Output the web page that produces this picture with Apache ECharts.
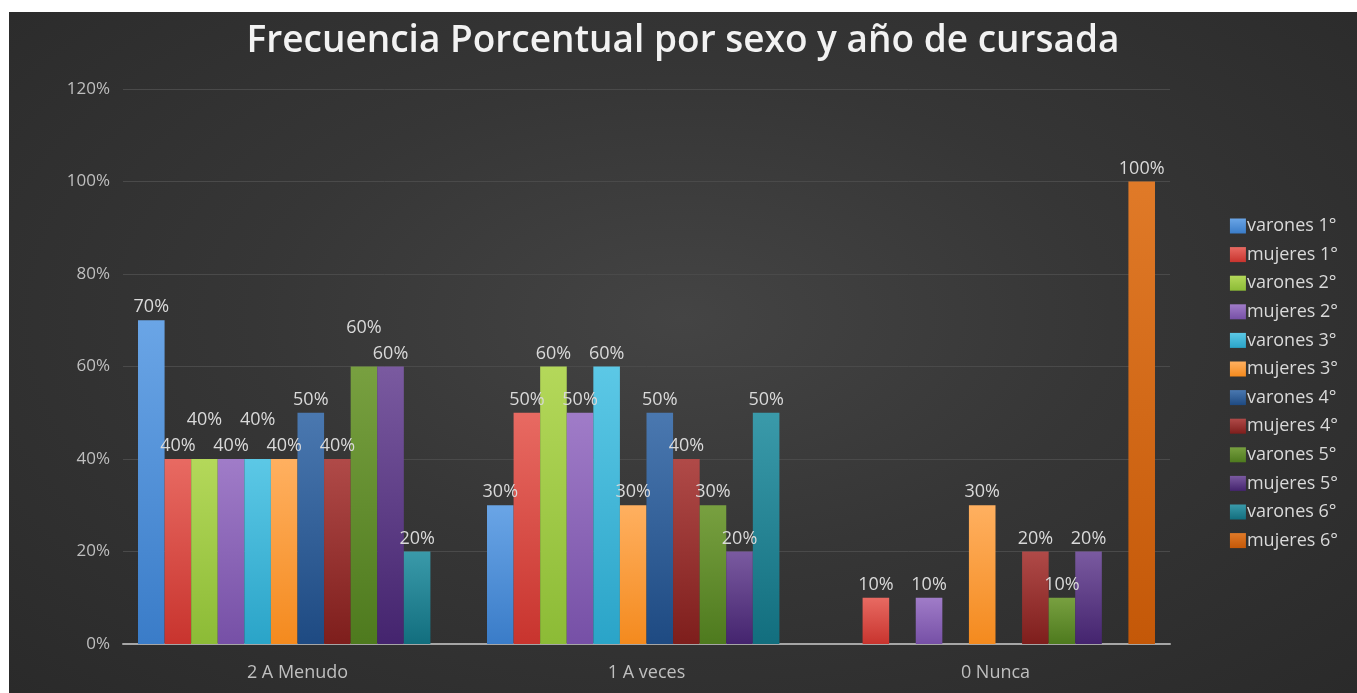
<!DOCTYPE html>
<html>
<head>
<meta charset="utf-8">
<script src="https://cdn.jsdelivr.net/npm/echarts@6/dist/echarts.min.js"></script>
<style>
html, body { margin: 0; padding: 0; background: #fff; }
#chart {
  position: absolute; left: 9px; top: 12px; width: 1348px; height: 681px;
  background: radial-gradient(ellipse at 50% 45%, #444444 0%, #363636 45%, #2a2a2a 100%);
}
</style>
</head>
<body>
<div id="chart"></div>
<script>
// categorías del eje x
var categorias = ['2 A Menudo', '1 A veces', '0 Nunca'];
var series_nombres = ['varones 1°', 'mujeres 1°', 'varones 2°', 'mujeres 2°', 'varones 3°', 'mujeres 3°',
                      'varones 4°', 'mujeres 4°', 'varones 5°', 'mujeres 5°', 'varones 6°', 'mujeres 6°'];
// valores en % por categoría
var varones1 = [70, 30, 0];
var mujeres1 = [40, 50, 10];
var varones2 = [40, 60, 0];
var mujeres2 = [40, 50, 10];
var varones3 = [40, 60, 0];
var mujeres3 = [40, 30, 30];
var varones4 = [50, 50, 0];
var mujeres4 = [40, 40, 20];
var varones5 = [60, 30, 10];
var mujeres5 = [60, 20, 20];
var varones6 = [20, 50, 0];
var mujeres6 = [0, 0, 100];
var ticksY = [0, 20, 40, 60, 80, 100, 120];

var valores = [varones1, mujeres1, varones2, mujeres2, varones3, mujeres3,
               varones4, mujeres4, varones5, mujeres5, varones6, mujeres6];
// colores (arriba, abajo) para el degradado de cada barra
var colores = [
  ['#6aa5e6', '#3a7cc8'], ['#e86a62', '#c8342e'], ['#b4d85a', '#8cbb36'],
  ['#a07cc8', '#7650a6'], ['#5cc8e6', '#2aa4c8'], ['#ffb060', '#f48a1e'],
  ['#4a78b0', '#1e4a82'], ['#b04a48', '#7e1e1c'], ['#78a040', '#4e7a1e'],
  ['#7a5aa0', '#44246e'], ['#3a9aaa', '#126e7e'], ['#e07a28', '#c45808']
];
// etiquetas que Excel subió para que no se pisen: "serie-categoría"
var etiquetasArriba = { '2-0': true, '4-0': true, '8-0': true };

var chart = echarts.init(document.getElementById('chart'));

var series = [];
for (var i = 0; i < valores.length; i++) {
  var datos = [];
  for (var j = 0; j < valores[i].length; j++) {
    var d = { value: valores[i][j] };
    if (etiquetasArriba[i + '-' + j]) d.label = { offset: [0, -26] };
    datos.push(d);
  }
  series.push({
    name: series_nombres[i],
    type: 'bar',
    data: datos,
    barGap: 0,
    barCategoryGap: '8.6%',
    itemStyle: {
      color: new echarts.graphic.LinearGradient(0, 0, 0, 1, [
        { offset: 0, color: colores[i][0] },
        { offset: 1, color: colores[i][1] }
      ])
    },
    label: {
      show: true,
      position: 'top',
      distance: 4,
      color: '#d9d9d9',
      fontSize: 18,
      fontFamily: 'Open Sans',
      formatter: function (p) { return p.value > 0 ? p.value + '%' : ''; }
    }
  });
}

chart.setOption({
  backgroundColor: 'transparent',
  title: {
    text: 'Frecuencia Porcentual por sexo y año de cursada',
    left: 'center',
    top: 6,
    textStyle: { color: '#f2f2f2', fontSize: 37, fontWeight: 600, fontFamily: 'Open Sans' }
  },
  legend: {
    orient: 'vertical',
    right: 14,
    top: 200,
    itemWidth: 16,
    itemHeight: 15,
    itemGap: 10.6,
    icon: 'rect',
    textStyle: { color: '#d9d9d9', fontSize: 18, fontFamily: 'Open Sans', padding: [0, 0, 0, -4] },
    data: series_nombres
  },
  grid: { left: 114, right: 187, top: 77, bottom: 49 },
  xAxis: {
    type: 'category',
    data: categorias,
    axisTick: { show: false },
    axisLine: { lineStyle: { color: '#a6a6a6', width: 2 } },
    axisLabel: { color: '#bfbfbf', fontSize: 18, fontFamily: 'Open Sans', margin: 20 }
  },
  yAxis: {
    type: 'value',
    min: ticksY[0],
    max: ticksY[ticksY.length - 1],
    interval: 20,
    axisLine: { show: false },
    axisTick: { show: false },
    splitLine: { lineStyle: { color: '#4a4a4a', width: 1 } },
    axisLabel: { color: '#bfbfbf', fontSize: 17, fontFamily: 'Open Sans', margin: 13,
                 formatter: '{value}%' }
  },
  series: series
});
</script>
</body>
</html>
